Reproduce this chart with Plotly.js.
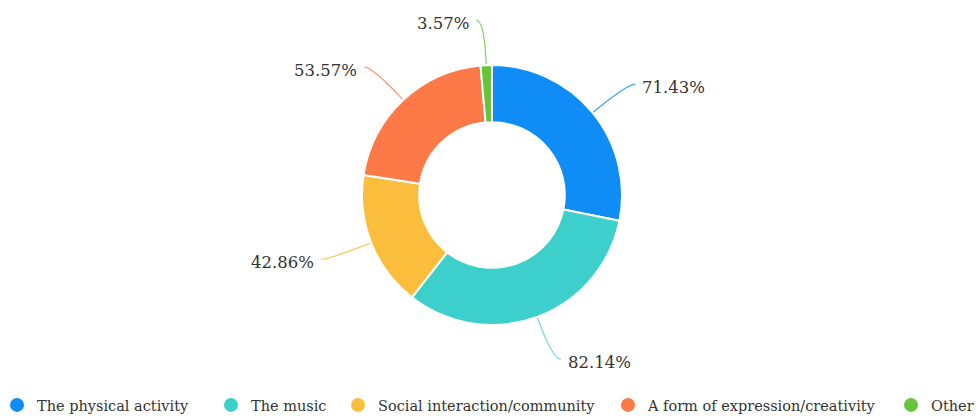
<!DOCTYPE html>
<html>
<head>
<meta charset="utf-8">
<script src="https://cdn.plot.ly/plotly-3.0.1.min.js"></script>
<style>html,body{margin:0;padding:0;background:#fff;}#chart{width:978px;height:419px;}</style>
</head>
<body>
<div id="chart"></div>
<script>
// ---- data ----
const categories = ["The physical activity", "The music", "Social interaction/community", "A form of expression/creativity", "Other"];
const values = [71.43, 82.14, 42.86, 53.57, 3.57];
const valueLabels = ["71.43%", "82.14%", "42.86%", "53.57%", "3.57%"];
const colors = ["#0f8cf5", "#3ccfcb", "#fbbe3c", "#fd7a48", "#66c43c"];

// ---- geometry (pixels) ----
const W = 978, H = 419;
const cx = 492, cy = 195, R = 130;
const legendX = [17, 231, 358, 628, 911];
const FONT = "DejaVu Serif";
const px2x = p => p / W;
const px2y = p => 1 - p / H;

const total = values.reduce((a, b) => a + b, 0);
const shapes = [];
const annotations = [];
let acc = 0;
values.forEach((v, i) => {
  const mid = (acc + v / 2) / total * 2 * Math.PI; // clockwise from 12 o'clock
  acc += v;
  const s = Math.sin(mid), c = Math.cos(mid);
  const ext = 45;
  const x0 = cx + (R + 1) * s, y0 = cy - (R + 1) * c;
  const x1 = cx + (R + ext) * s, y1 = cy - (R + ext) * c;
  const dir = s >= 0 ? 1 : -1;
  const x2 = x1 + dir * 8, y2 = y1;
  shapes.push({
    type: "path", xref: "paper", yref: "paper",
    path: `M ${px2x(x0)},${px2y(y0)} Q ${px2x(x1)},${px2y(y1)} ${px2x(x2)},${px2y(y2)}`,
    line: { color: colors[i], width: 1.2 }, opacity: 0.8
  });
  annotations.push({
    xref: "paper", yref: "paper", showarrow: false,
    x: px2x(x2 + dir * 5), y: px2y(y2 + 3),
    xanchor: dir > 0 ? "left" : "right", yanchor: "middle",
    text: valueLabels[i],
    font: { family: FONT, size: 16.5, color: "#333" }
  });
});

const pie = {
  type: "pie",
  labels: categories,
  values: values,
  sort: false,
  direction: "clockwise",
  rotation: 0,
  hole: 0.56,
  textinfo: "none",
  showlegend: false,
  marker: { colors: colors, line: { color: "#ffffff", width: 2 } },
  domain: { x: [px2x(cx - R), px2x(cx + R)], y: [px2y(cy + R), px2y(cy - R)] }
};

const legendTraces = categories.map((name, i) => ({
  type: "scatter", mode: "markers", x: [null], y: [null], name: name,
  legend: i === 0 ? "legend" : "legend" + (i + 1),
  marker: { symbol: "circle", size: 14, color: colors[i] },
  showlegend: true, hoverinfo: "skip"
}));

const layout = {
  width: W, height: H,
  font: { family: FONT },
  margin: { l: 0, r: 0, t: 0, b: 0, autoexpand: false },
  paper_bgcolor: "#ffffff", plot_bgcolor: "#ffffff",
  xaxis: { visible: false }, yaxis: { visible: false },
  showlegend: true,
  shapes: shapes,
  annotations: annotations
};
legendX.forEach((lx, i) => {
  layout[i === 0 ? "legend" : "legend" + (i + 1)] = {
    orientation: "h", x: px2x(lx - 20), xanchor: "left", y: px2y(405), yanchor: "middle",
    font: { family: FONT, size: 14.5, color: "#333" },
    bgcolor: "rgba(0,0,0,0)", itemwidth: 30
  };
});

Plotly.newPlot("chart", [pie].concat(legendTraces), layout, { displayModeBar: false, staticPlot: true });
</script>
</body>
</html>
